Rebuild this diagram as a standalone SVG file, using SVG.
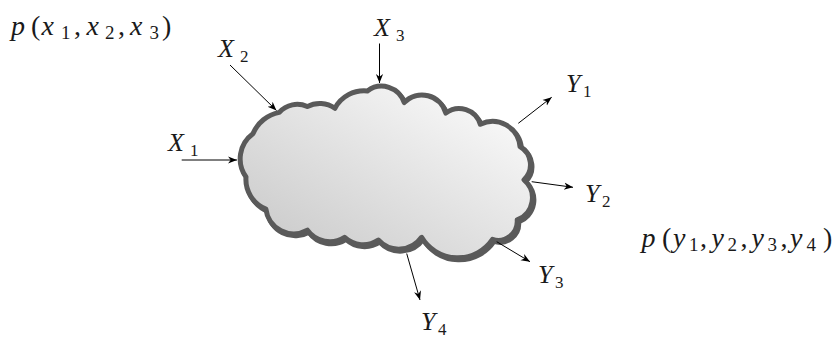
<svg xmlns="http://www.w3.org/2000/svg" width="835" height="340" viewBox="0 0 835 340">
  <style>
    text { font-family: "Liberation Serif", "Times New Roman", serif; fill: #1a1a1a; }
    .it { font-style: italic; }
    .big { font-size: 26px; }
    .sub { font-size: 17px; }
    .pbig { font-size: 28px; }
    .psub { font-size: 19px; }
    .conn { stroke: #000; stroke-width: 1; fill: none; marker-end: url(#ah); }
    .cl { stroke: #5a5a5a; stroke-width: 5; stroke-linejoin: round; }
  </style>
  <defs>
    <linearGradient id="cg" x1="0" y1="1" x2="1" y2="0">
      <stop offset="0" stop-color="#c6c6c6"/>
      <stop offset="1" stop-color="#ffffff"/>
    </linearGradient>
    <marker id="ah" viewBox="0 0 10 10" refX="10" refY="5" markerWidth="9" markerHeight="9" markerUnits="userSpaceOnUse" orient="auto">
      <path d="M0,1 L10,5 L0,9 L3,5 z" fill="#000"/>
    </marker>
    <path id="cloudpath" d="M279.3,112.4 A24 24 0 0 1 307.3,106.6 A26 26 0 0 1 334.9,108.3 A33 33 0 0 1 367.4,90.9 A23.7 23.7 0 0 1 404.2,102.6 A24.7 24.7 0 0 1 445.8,113.1 A22 22 0 0 1 480.3,124.3 A27.5 27.5 0 0 1 520,146.5 A21 21 0 0 1 524,179.8 A23.6 23.6 0 0 1 517.2,219.9 A19 19 0 0 1 492.5,239.4 A42 42 0 0 1 421.6,237.3 A27.7 27.7 0 0 1 378.3,240 A27 27 0 0 1 344.6,237.4 A27.5 27.5 0 0 1 307.4,230.2 A28 28 0 0 1 265.9,209.1 A32 32 0 0 1 246,176.9 A31 31 0 0 1 252.9,133.8 A36 36 0 0 1 279.3,112.4 Z"/>
  </defs>

  <g id="cloud">
    <use href="#cloudpath" class="cl" fill="#5a5a5a" transform="translate(1.5,2)"/>
    <use href="#cloudpath" class="cl" fill="url(#cg)"/>
  </g>

  <g id="connectors">
    <line class="conn" x1="181.7" y1="160" x2="237" y2="160"/>
    <line class="conn" x1="230" y1="65" x2="276.5" y2="110.5"/>
    <line class="conn" x1="379.5" y1="43.5" x2="379.5" y2="83"/>
    <line class="conn" x1="518.3" y1="123.3" x2="551.7" y2="97.3"/>
    <line class="conn" x1="531.7" y1="181.7" x2="573" y2="187.3"/>
    <line class="conn" x1="496.7" y1="241.7" x2="530" y2="261.7"/>
    <line class="conn" x1="406.7" y1="253.5" x2="420" y2="300"/>
  </g>

  <g id="label-px">
    <text class="pbig it" x="11" y="35">p</text>
    <text class="pbig" x="31" y="35">(</text>
    <text class="pbig it" x="41.5" y="35">x</text>
    <text class="psub" x="61" y="39">1</text>
    <text class="pbig" x="74" y="35">,</text>
    <text class="pbig it" x="86.5" y="35">x</text>
    <text class="psub" x="105" y="39">2</text>
    <text class="pbig" x="118" y="35">,</text>
    <text class="pbig it" x="130" y="35">x</text>
    <text class="psub" x="149.5" y="39">3</text>
    <text class="pbig" x="162" y="35">)</text>
  </g>

  <g id="label-py">
    <text class="pbig it" x="641.5" y="247">p</text>
    <text class="pbig" x="662" y="247">(</text>
    <text class="pbig it" x="673" y="247">y</text>
    <text class="psub" x="689" y="251">1</text>
    <text class="pbig" x="700" y="247">,</text>
    <text class="pbig it" x="711.5" y="247">y</text>
    <text class="psub" x="727.5" y="251">2</text>
    <text class="pbig" x="740.5" y="247">,</text>
    <text class="pbig it" x="751.5" y="247">y</text>
    <text class="psub" x="767.5" y="251">3</text>
    <text class="pbig" x="780.5" y="247">,</text>
    <text class="pbig it" x="790" y="247">y</text>
    <text class="psub" x="806.5" y="251">4</text>
    <text class="pbig" x="823" y="247">)</text>
  </g>

  <g id="X1"><text class="big it" x="168" y="151">X</text><text class="sub" x="190" y="156">1</text></g>
  <g id="X2"><text class="big it" x="218" y="57">X</text><text class="sub" x="240" y="62">2</text></g>
  <g id="X3"><text class="big it" x="374" y="36">X</text><text class="sub" x="396" y="41">3</text></g>
  <g id="Y1"><text class="big it" x="566" y="92">Y</text><text class="sub" x="583" y="97">1</text></g>
  <g id="Y2"><text class="big it" x="585" y="202">Y</text><text class="sub" x="602" y="207">2</text></g>
  <g id="Y3"><text class="big it" x="538" y="283">Y</text><text class="sub" x="555" y="288">3</text></g>
  <g id="Y4"><text class="big it" x="421" y="330">Y</text><text class="sub" x="438" y="335">4</text></g>
</svg>
